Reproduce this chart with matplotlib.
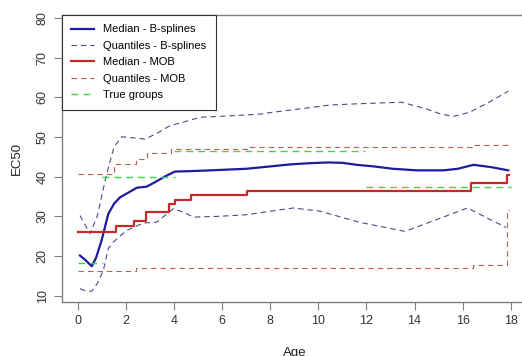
import numpy as np
import matplotlib
matplotlib.use('Agg')
import matplotlib.pyplot as plt

plt.rcParams['font.family'] = ['Liberation Sans', 'DejaVu Sans']

# B-splines median and quantiles
bs_med_x = [0.08, 0.3, 0.57, 0.75, 0.98, 1.26, 1.5, 1.75, 2.1, 2.44, 2.86, 3.2, 3.6, 4.03,
            4.66, 5.5, 7.0, 8.0, 8.82, 9.6, 10.4, 11.0, 11.6, 12.3, 13.1, 14.1, 15.2,
            15.8, 16.45, 17.2, 17.9]
bs_med_y = [20.1, 19.0, 17.4, 19.5, 23.9, 30.6, 33.2, 34.8, 36.0, 37.2, 37.5, 38.6, 40.0, 41.3,
            41.4, 41.6, 42.0, 42.6, 43.1, 43.4, 43.6, 43.5, 43.0, 42.6, 42.0, 41.6, 41.6,
            42.0, 43.0, 42.4, 41.6]

bs_up_x = [0.08, 0.5, 0.8, 1.19, 1.5, 1.82, 2.3, 2.79, 3.3, 3.83, 4.4, 5.07, 6.45, 7.57,
           8.12, 9.23, 10.48, 11.6, 12.5, 13.46, 14.5, 15.0, 15.6, 16.3, 17.1, 17.9]
bs_up_y = [30.2, 25.6, 30.0, 40.7, 47.5, 50.1, 49.8, 49.5, 51.0, 52.9, 53.8, 55.0, 55.4, 55.8,
           56.3, 57.1, 58.1, 58.4, 58.6, 58.8, 57.1, 56.0, 55.2, 56.3, 58.8, 61.6]

bs_lo_x = [0.08, 0.36, 0.57, 0.8, 1.05, 1.26, 1.47, 2.02, 2.72, 3.27, 3.96, 4.4, 4.8, 5.9,
           7.0, 7.57, 8.96, 10.07, 11.7, 13.6, 14.8, 16.2, 17.8]
bs_lo_y = [11.7, 11.1, 11.1, 13.0, 16.3, 21.9, 23.5, 26.4, 28.3, 28.5, 31.9, 31.0, 29.8, 30.0,
           30.4, 30.9, 32.1, 31.3, 28.5, 26.2, 28.9, 32.1, 27.2]

# MOB step functions (breakpoints and levels)
mob_med_x = [0.0, 1.6, 2.35, 2.82, 3.8, 4.05, 4.7, 7.05, 16.35, 17.85, 17.95]
mob_med_y = [26.1, 27.5, 28.9, 31.0, 33.0, 34.0, 35.3, 36.3, 38.5, 40.5, 40.5]

mob_up_x = [0.0, 1.5, 2.4, 2.85, 3.85, 7.1, 16.4, 17.85, 17.95]
mob_up_y = [40.7, 43.1, 44.5, 46.0, 46.9, 47.4, 48.0, 48.7, 48.7]

mob_lo_x = [0.0, 2.4, 16.45, 17.85, 17.95]
mob_lo_y = [16.3, 16.9, 17.8, 31.5, 31.5]

# true groups
true_start = [0.0, 1.0, 4.0, 12.0]
true_end = [1.05, 4.03, 11.95, 18.0]
true_val = [18.3, 39.9, 46.5, 37.4]

fig = plt.figure(figsize=(5.22, 3.56), dpi=100)
ax = fig.add_axes([62 / 522, 54 / 356, 466 / 522, 287 / 356])

dash = (5, 3.5)
ax.plot(bs_med_x, bs_med_y, color='#1c1c9c', lw=1.6, label='Median - B-splines')
ax.plot(bs_up_x, bs_up_y, color='#4a4a8c', lw=0.8, dashes=dash, label='Quantiles - B-splines')
ax.plot(bs_lo_x, bs_lo_y, color='#4a4a8c', lw=0.8, dashes=dash)
ax.step(mob_med_x, mob_med_y, where='post', color='#c42a2a', lw=1.6, label='Median - MOB')
ax.step(mob_up_x, mob_up_y, where='post', color='#c85a5a', lw=0.8, dashes=dash, label='Quantiles - MOB')
ax.step(mob_lo_x, mob_lo_y, where='post', color='#c85a5a', lw=0.8, dashes=dash)
for i in range(len(true_val)):
    ax.plot([true_start[i], true_end[i]], [true_val[i], true_val[i]], color='#3fd83f', lw=1.0,
            dashes=dash, label='True groups' if i == 0 else None)

ax.set_xlim(-0.666, 18.72)
ax.set_ylim(8.36, 80.83)
ax.set_xticks(np.arange(0, 19, 2))
ax.set_yticks(np.arange(10, 81, 10))
for lab in ax.get_yticklabels():
    lab.set_rotation(90)
    lab.set_va('center')
ax.tick_params(colors='#808080', labelcolor='#333333', labelsize=9, length=6, width=0.8)
for s in ax.spines.values():
    s.set_color('#808080')
    s.set_linewidth(1.0)

ax.set_xlabel('Age', fontsize=9.5, color='#222222', labelpad=14)
ax.set_ylabel('EC50', fontsize=9.5, color='#222222', labelpad=10)

leg = ax.legend(loc='upper left', bbox_to_anchor=(0, 1), borderaxespad=0, fontsize=8.0,
                fancybox=False, edgecolor='#333333', framealpha=1, labelspacing=0.58,
                handlelength=2.0, handletextpad=0.85, borderpad=0.85)
leg.get_frame().set_linewidth(0.8)

fig.savefig('out.png', dpi=100)
